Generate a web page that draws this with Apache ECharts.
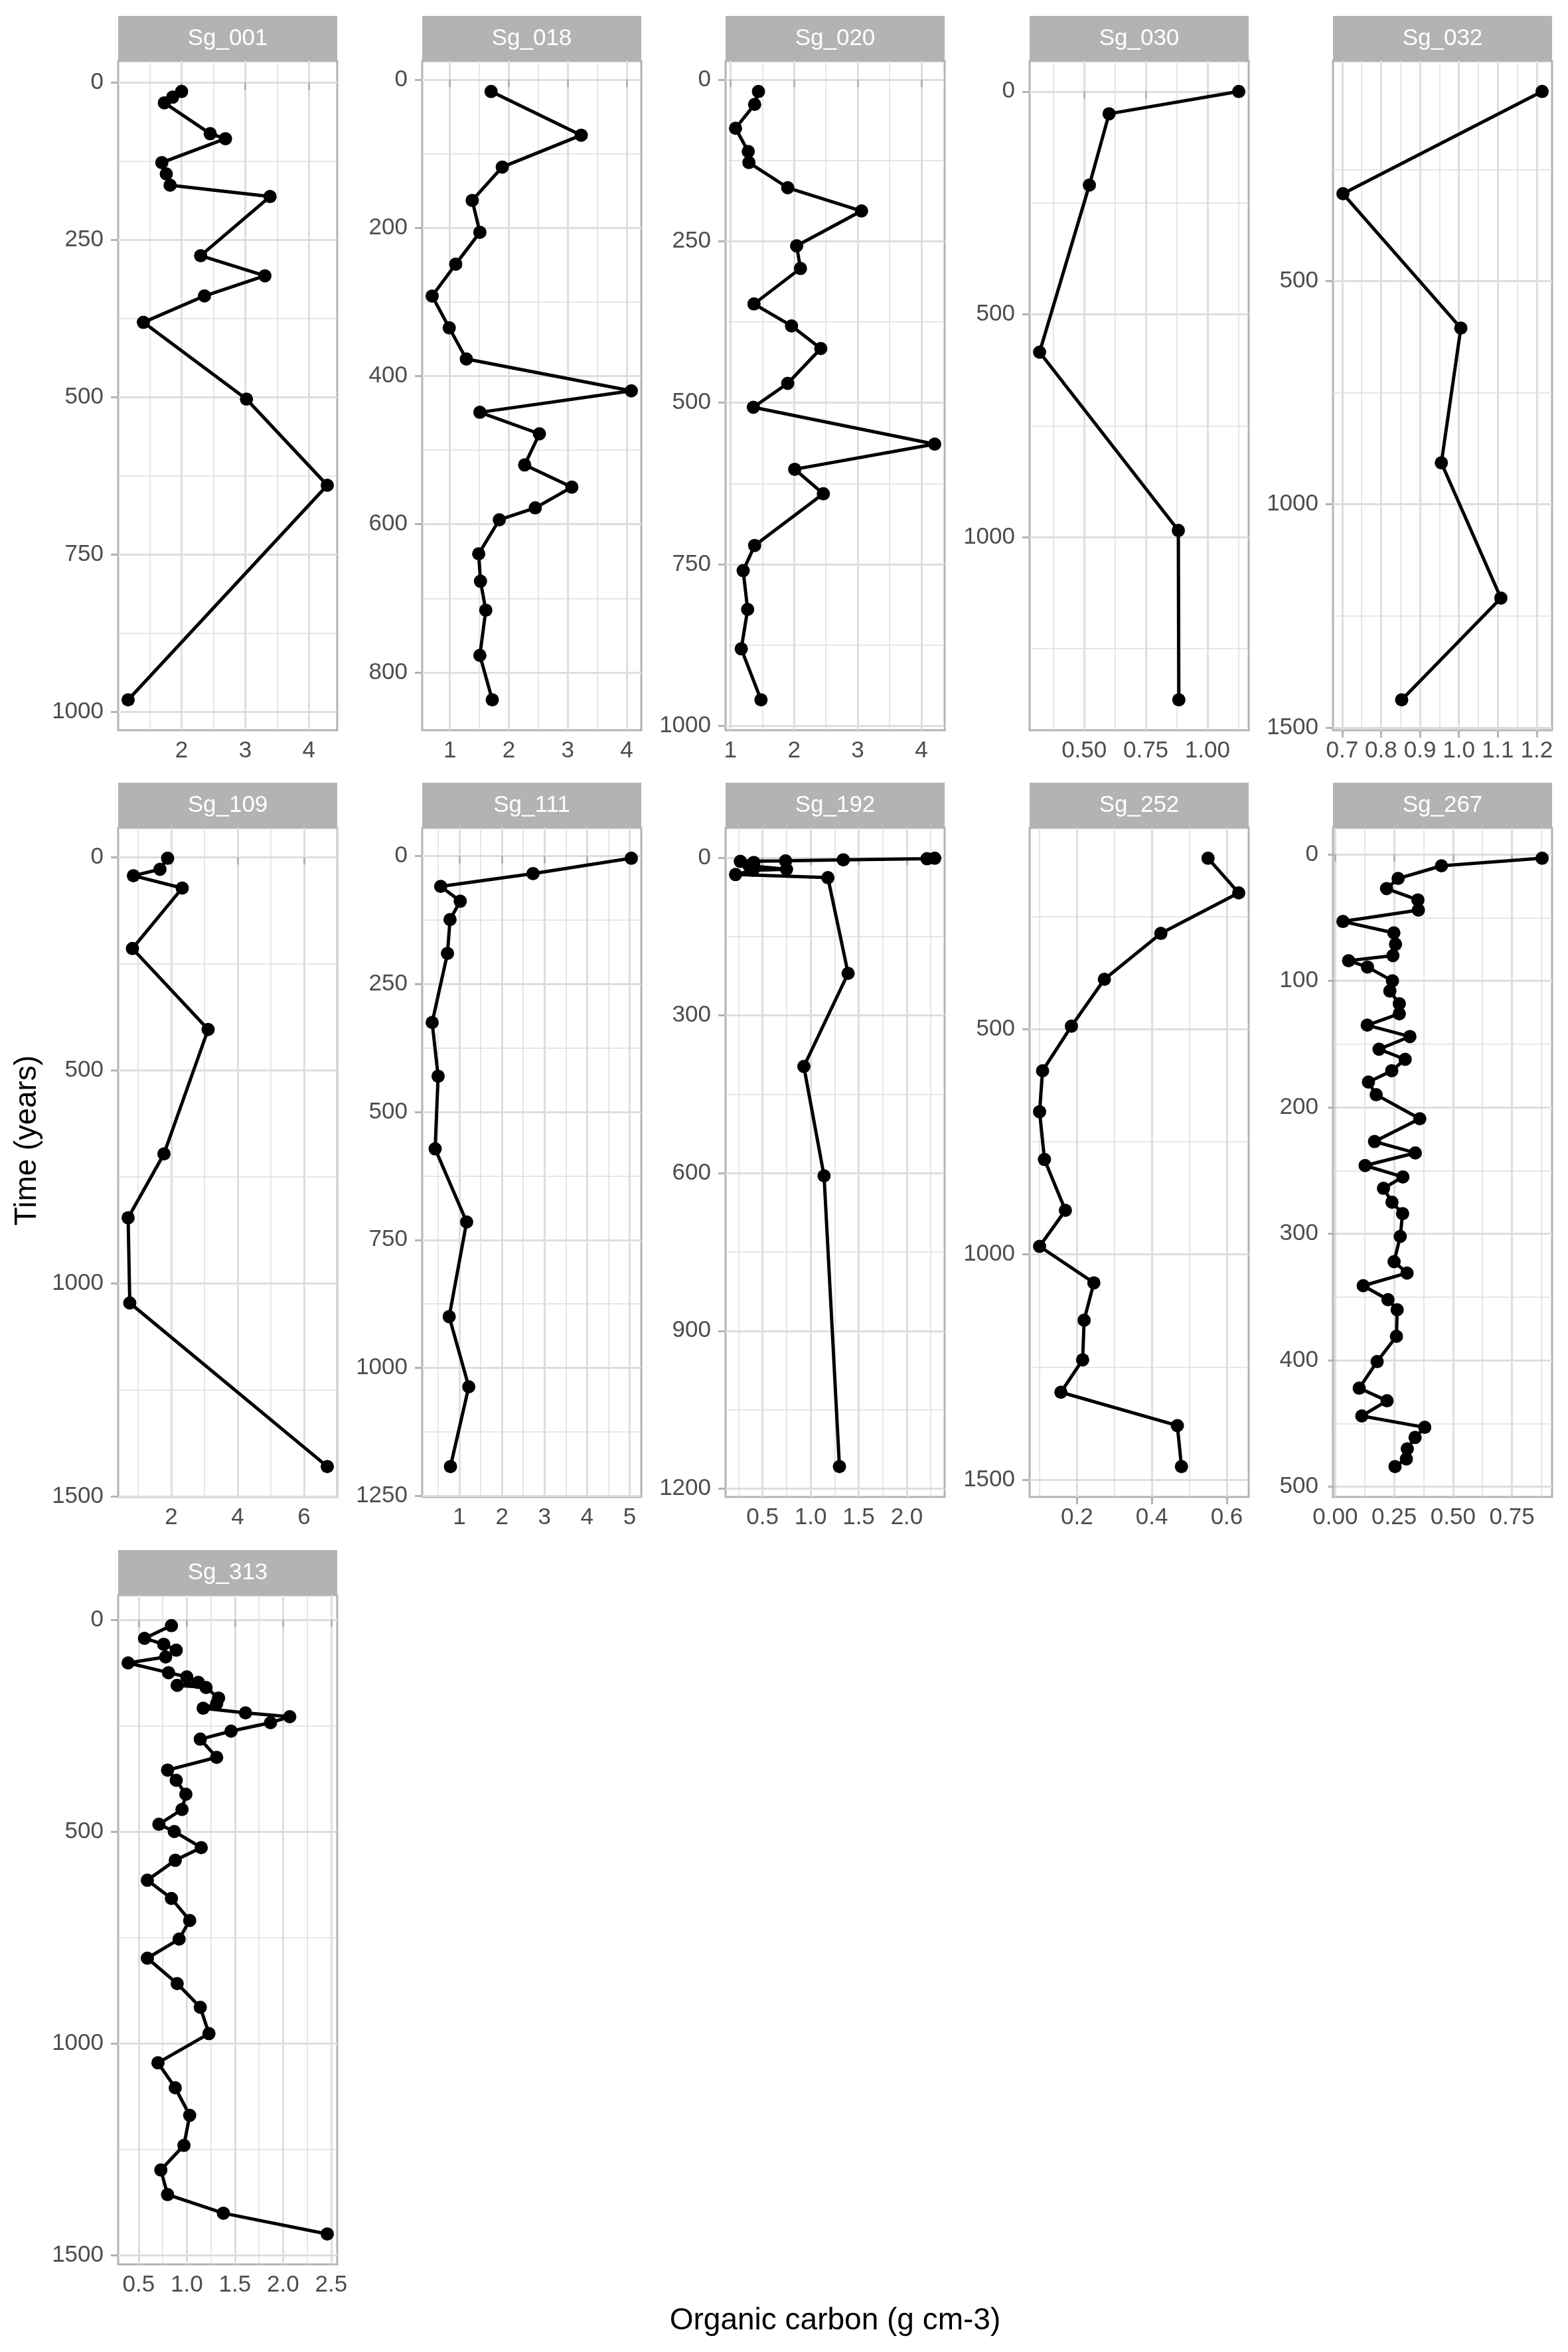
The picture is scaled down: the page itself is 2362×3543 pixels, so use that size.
<!DOCTYPE html>
<html>
<head>
<meta charset="utf-8">
<title>Organic carbon by core</title>
<script src="https://cdn.jsdelivr.net/npm/echarts@6/dist/echarts.min.js"></script>
<style>
  html, body { margin: 0; padding: 0; background: #ffffff; }
  #chart { width: 2362px; height: 3543px; }
</style>
</head>
<body>
<div id="chart"></div>
<script>
// ---- data (time in years, organic carbon in g cm-3) ----
var sg001_time = [14, 23, 32, 81, 89, 127, 145, 163, 181, 275, 307, 339, 381, 503, 640, 981];
var sg001_oc   = [2.00, 1.86, 1.73, 2.45, 2.69, 1.69, 1.76, 1.82, 3.39, 2.30, 3.31, 2.36, 1.40, 3.02, 4.29, 1.16];

var sg018_time = [16, 75, 118, 163, 206, 249, 292, 335, 377, 420, 449, 478, 520, 550, 578, 594, 640, 677, 716, 777, 837];
var sg018_oc   = [1.70, 3.23, 1.89, 1.38, 1.51, 1.10, 0.70, 0.99, 1.28, 4.08, 1.51, 2.52, 2.27, 3.07, 2.45, 1.84, 1.49, 1.52, 1.61, 1.51, 1.72];

var sg020_time = [18, 38, 75, 111, 128, 167, 203, 257, 292, 347, 381, 416, 470, 507, 564, 603, 641, 721, 760, 820, 881, 960];
var sg020_oc   = [1.44, 1.38, 1.08, 1.28, 1.29, 1.90, 3.06, 2.04, 2.10, 1.37, 1.96, 2.42, 1.90, 1.36, 4.21, 2.01, 2.46, 1.38, 1.20, 1.27, 1.17, 1.48];

var sg030_time = [0, 50, 210, 585, 985, 1365];
var sg030_oc   = [1.127, 0.601, 0.521, 0.319, 0.882, 0.884];

var sg032_time = [75, 304, 605, 907, 1210, 1438];
var sg032_oc   = [1.214, 0.702, 1.005, 0.955, 1.108, 0.853];

var sg109_time = [2, 28, 43, 72, 214, 404, 696, 846, 1046, 1430];
var sg109_oc   = [1.89, 1.66, 0.86, 2.33, 0.83, 3.11, 1.78, 0.70, 0.75, 6.70];

var sg111_time = [4, 34, 59, 88, 124, 190, 325, 430, 572, 715, 900, 1037, 1193];
var sg111_oc   = [5.04, 2.73, 0.56, 1.02, 0.78, 0.72, 0.36, 0.50, 0.43, 1.17, 0.76, 1.22, 0.79];

var sg192_time = [1, 2, 4, 6, 7, 9, 15, 22, 24, 32, 38, 220, 397, 605, 1158];
var sg192_oc   = [2.29, 2.21, 1.34, 0.74, 0.27, 0.41, 0.36, 0.75, 0.40, 0.22, 1.18, 1.39, 0.93, 1.14, 1.30];

var sg252_time = [120, 197, 287, 389, 493, 592, 683, 789, 902, 982, 1063, 1146, 1234, 1306, 1380, 1471];
var sg252_oc   = [0.550, 0.632, 0.424, 0.273, 0.185, 0.108, 0.100, 0.113, 0.169, 0.100, 0.245, 0.219, 0.215, 0.157, 0.468, 0.479];

var sg267_time = [3, 9, 19, 27, 36, 44, 53, 62, 71, 80, 84, 89, 100, 108, 118, 126, 135, 144, 154, 162,
                  171, 180, 190, 209, 227, 236, 246, 255, 264, 275, 284, 302, 322, 331, 341, 352, 360, 381, 401, 422,
                  432, 444, 453, 461, 470, 478, 484];
var sg267_oc   = [0.878, 0.451, 0.267, 0.218, 0.351, 0.353, 0.033, 0.249, 0.256, 0.245, 0.057, 0.137, 0.243, 0.232, 0.272, 0.272, 0.136, 0.317, 0.186, 0.297,
                  0.240, 0.141, 0.174, 0.359, 0.167, 0.340, 0.127, 0.287, 0.205, 0.241, 0.286, 0.276, 0.250, 0.305, 0.119, 0.224, 0.263, 0.260, 0.178, 0.102,
                  0.220, 0.113, 0.380, 0.339, 0.306, 0.302, 0.254];

var sg313_time = [14, 44, 58, 72, 88, 102, 125, 135, 148, 155, 160, 185, 198, 209, 220, 229, 243, 263, 282, 325,
                  355, 379, 412, 448, 483, 500, 538, 568, 615, 658, 710, 754, 799, 859, 915, 977, 1046, 1105, 1170, 1241,
                  1299, 1357, 1401, 1450];
var sg313_oc   = [0.84, 0.56, 0.76, 0.89, 0.78, 0.39, 0.81, 1.00, 1.12, 0.90, 1.20, 1.33, 1.31, 1.17, 1.61, 2.07, 1.87, 1.46, 1.14, 1.31,
                  0.80, 0.89, 0.99, 0.95, 0.71, 0.87, 1.15, 0.88, 0.59, 0.84, 1.03, 0.92, 0.59, 0.90, 1.14, 1.23, 0.70, 0.88, 1.03, 0.97,
                  0.73, 0.80, 1.38, 2.46];

// ---- tick labels per panel ----
var sg001_xTicks = ['2', '3', '4'];                 var sg001_yTicks = ['0', '250', '500', '750', '1000'];
var sg018_xTicks = ['1', '2', '3', '4'];            var sg018_yTicks = ['0', '200', '400', '600', '800'];
var sg020_xTicks = ['1', '2', '3', '4'];            var sg020_yTicks = ['0', '250', '500', '750', '1000'];
var sg030_xTicks = ['0.50', '0.75', '1.00'];        var sg030_yTicks = ['0', '500', '1000'];
var sg032_xTicks = ['0.7', '0.8', '0.9', '1.0', '1.1', '1.2']; var sg032_yTicks = ['500', '1000', '1500'];
var sg109_xTicks = ['2', '4', '6'];                 var sg109_yTicks = ['0', '500', '1000', '1500'];
var sg111_xTicks = ['1', '2', '3', '4', '5'];       var sg111_yTicks = ['0', '250', '500', '750', '1000', '1250'];
var sg192_xTicks = ['0.5', '1.0', '1.5', '2.0'];    var sg192_yTicks = ['0', '300', '600', '900', '1200'];
var sg252_xTicks = ['0.2', '0.4', '0.6'];           var sg252_yTicks = ['500', '1000', '1500'];
var sg267_xTicks = ['0.00', '0.25', '0.50', '0.75']; var sg267_yTicks = ['0', '100', '200', '300', '400', '500'];
var sg313_xTicks = ['0.5', '1.0', '1.5', '2.0', '2.5']; var sg313_yTicks = ['0', '500', '1000', '1500'];

var panels = [
  { name: 'Sg_001', time: sg001_time, oc: sg001_oc, xTicks: sg001_xTicks, yTicks: sg001_yTicks },
  { name: 'Sg_018', time: sg018_time, oc: sg018_oc, xTicks: sg018_xTicks, yTicks: sg018_yTicks },
  { name: 'Sg_020', time: sg020_time, oc: sg020_oc, xTicks: sg020_xTicks, yTicks: sg020_yTicks },
  { name: 'Sg_030', time: sg030_time, oc: sg030_oc, xTicks: sg030_xTicks, yTicks: sg030_yTicks },
  { name: 'Sg_032', time: sg032_time, oc: sg032_oc, xTicks: sg032_xTicks, yTicks: sg032_yTicks },
  { name: 'Sg_109', time: sg109_time, oc: sg109_oc, xTicks: sg109_xTicks, yTicks: sg109_yTicks },
  { name: 'Sg_111', time: sg111_time, oc: sg111_oc, xTicks: sg111_xTicks, yTicks: sg111_yTicks },
  { name: 'Sg_192', time: sg192_time, oc: sg192_oc, xTicks: sg192_xTicks, yTicks: sg192_yTicks },
  { name: 'Sg_252', time: sg252_time, oc: sg252_oc, xTicks: sg252_xTicks, yTicks: sg252_yTicks },
  { name: 'Sg_267', time: sg267_time, oc: sg267_oc, xTicks: sg267_xTicks, yTicks: sg267_yTicks },
  { name: 'Sg_313', time: sg313_time, oc: sg313_oc, xTicks: sg313_xTicks, yTicks: sg313_yTicks }
];

// ---- layout (px) ----
var colLeft = [178, 636, 1093, 1551, 2008];
var rowTop = [24, 1179, 2335];
var panelW = 330, stripH = 68, plotH = 1008;
var FONT = '"Liberation Sans", Arial, Helvetica, sans-serif';
var grey70 = '#B3B3B3', grey87 = '#DEDEDE', grey30 = '#4D4D4D';

// ggplot style 5% expansion on both ends
function expand(v) {
  var lo = Math.min.apply(null, v), hi = Math.max.apply(null, v);
  var pad = (hi - lo) * 0.05;
  return [lo - pad, hi + pad];
}
function minorsOf(major) {
  var step = major[1] - major[0];
  var out = [major[0] - step / 2];
  for (var k = 0; k < major.length; k++) out.push(+(major[k] + step / 2).toFixed(6));
  return out;
}
function labeller(labels) {
  return function (v) {
    for (var k = 0; k < labels.length; k++) {
      if (Math.abs(parseFloat(labels[k]) - v) < 1e-9) return labels[k];
    }
    return '';
  };
}

var grids = [], xAxes = [], yAxes = [], series = [], graphics = [];

panels.forEach(function (p, i) {
  var col = i % 5, row = Math.floor(i / 5);
  var left = colLeft[col], top = rowTop[row] + stripH;
  var xr = expand(p.oc), yr = expand(p.time);
  var xMaj = p.xTicks.map(parseFloat), yMaj = p.yTicks.map(parseFloat);

  grids.push({
    left: left, top: top, width: panelW, height: plotH,
    containLabel: false, outerBoundsMode: 'none',
    show: true, borderColor: grey70, borderWidth: 3, backgroundColor: '#ffffff'
  });

  // major x axis: ticks, labels, major grid
  xAxes.push({
    type: 'value', gridIndex: i, position: 'bottom', min: xr[0], max: xr[1],
    axisLine: { show: false },
    axisTick: { show: true, length: 11, customValues: xMaj, lineStyle: { color: grey70, width: 3 } },
    axisLabel: { show: true, customValues: xMaj, formatter: labeller(p.xTicks), color: grey30,
                 fontSize: 35, fontFamily: FONT, margin: 14, showMinLabel: true, showMaxLabel: true },
    splitLine: { show: true, lineStyle: { color: grey87, width: 3 } },
    z: 1
  });
  // minor x grid
  xAxes.push({
    type: 'value', gridIndex: i, position: 'top', min: xr[0], max: xr[1],
    axisLine: { show: false },
    axisTick: { show: false, customValues: minorsOf(xMaj) },
    axisLabel: { show: false },
    splitLine: { show: true, lineStyle: { color: grey87, width: 1.5 } },
    z: 0
  });

  yAxes.push({
    type: 'value', gridIndex: i, position: 'left', inverse: true, min: yr[0], max: yr[1],
    axisLine: { show: false },
    axisTick: { show: true, length: 11, customValues: yMaj, lineStyle: { color: grey70, width: 3 } },
    axisLabel: { show: true, customValues: yMaj, formatter: labeller(p.yTicks), color: grey30,
                 fontSize: 35, fontFamily: FONT, margin: 22, showMinLabel: true, showMaxLabel: true },
    splitLine: { show: true, lineStyle: { color: grey87, width: 3 } },
    z: 1
  });
  yAxes.push({
    type: 'value', gridIndex: i, position: 'right', inverse: true, min: yr[0], max: yr[1],
    axisLine: { show: false },
    axisTick: { show: false, customValues: minorsOf(yMaj) },
    axisLabel: { show: false },
    splitLine: { show: true, lineStyle: { color: grey87, width: 1.5 } },
    z: 0
  });

  series.push({
    name: p.name, type: 'line',
    xAxisIndex: 2 * i, yAxisIndex: 2 * i,
    data: p.oc.map(function (v, k) { return [v, p.time[k]]; }),
    symbol: 'circle', symbolSize: 20, showSymbol: true,
    lineStyle: { color: '#000000', width: 5 },
    itemStyle: { color: '#000000' },
    clip: false, silent: true, z: 5
  });

  // facet strip
  graphics.push({
    type: 'rect', x: left, y: rowTop[row], silent: true,
    shape: { x: 0, y: 0, width: panelW, height: stripH },
    style: { fill: grey70 }
  });
  graphics.push({
    type: 'text', x: left + panelW / 2, y: rowTop[row] + stripH / 2, silent: true,
    style: { text: p.name, fill: '#ffffff', fontSize: 35, fontFamily: FONT, align: 'center', verticalAlign: 'middle' }
  });
});

// axis titles
graphics.push({
  type: 'text', x: 1258, y: 3496, silent: true,
  style: { text: 'Organic carbon (g cm-3)', fill: '#000000', fontSize: 46, fontFamily: FONT, align: 'center', verticalAlign: 'middle' }
});
graphics.push({
  type: 'text', x: 41, y: 1718, rotation: Math.PI / 2, silent: true,
  style: { text: 'Time (years)', fill: '#000000', fontSize: 46, fontFamily: FONT, align: 'center', verticalAlign: 'middle' }
});

var myChart = echarts.init(document.getElementById('chart'), null, { renderer: 'canvas' });
myChart.setOption({
  animation: false,
  backgroundColor: '#ffffff',
  textStyle: { fontFamily: FONT },
  grid: grids,
  xAxis: xAxes,
  yAxis: yAxes,
  series: series,
  graphic: graphics
});
</script>
</body>
</html>
